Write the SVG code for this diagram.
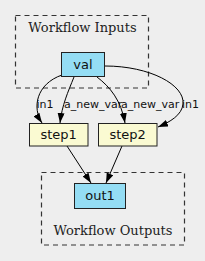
<svg xmlns="http://www.w3.org/2000/svg" width="205" height="261" viewBox="0 0 205 261">
<defs>
<style>
.cluster{fill:none;stroke:#333;stroke-width:1.2;stroke-dasharray:5,4}
.ctitle{font-family:"DejaVu Serif",serif;font-size:13px;fill:#222;text-anchor:middle}
.io{fill:#94ddf4;stroke:#222;stroke-width:1}
.step{fill:#fafad2;stroke:#222;stroke-width:1}
.nt{font-family:"DejaVu Sans",sans-serif;font-size:13px;fill:#111;text-anchor:middle}
.edge{fill:none;stroke:#000;stroke-width:1;marker-end:url(#arr)}
.el{font-family:"DejaVu Sans",sans-serif;font-size:11px;fill:#111}
</style>
<marker id="arr" markerUnits="userSpaceOnUse" markerWidth="10" markerHeight="8" refX="10" refY="3.5" orient="auto">
<path d="M0,0 L10,3.5 L0,7 z" fill="#000"/>
</marker>
</defs>
<rect width="205" height="261" fill="#eeeeee"/>
<g id="cluster_inputs">
<rect class="cluster" x="15.5" y="15.5" width="133" height="72.5"/>
<text class="ctitle" x="82.5" y="32">Workflow Inputs</text>
</g>
<g id="cluster_outputs">
<rect class="cluster" x="41.5" y="172.5" width="143" height="72.5"/>
<text class="ctitle" x="113" y="235">Workflow Outputs</text>
</g>
<g id="edges">
<path class="edge" d="M62,75 C36,84 32,108 42,123"/>
<path class="edge" d="M74,77 C68,92 62,105 60,123"/>
<path class="edge" d="M97,77 C110,87 121,100 125,123"/>
<path class="edge" d="M105,66 C150,66 185,85 183,104 C182,115 170,122 158,127"/>
<path class="edge" d="M67,146 L91,183"/>
<path class="edge" d="M122,146 L106,183"/>
<text class="el" x="36.5" y="108">in1</text>
<text class="el" x="64" y="108">a_new_var</text>
<text class="el" x="121" y="108">a_new_var</text>
<text class="el" x="182" y="108">in1</text>
</g>
<g id="val">
<rect class="io" x="61.5" y="52.5" width="43" height="24"/>
<text class="nt" x="83" y="68.5">val</text>
</g>
<g id="step1">
<rect class="step" x="29.5" y="123.5" width="58.5" height="22.5"/>
<text class="nt" x="58.7" y="139">step1</text>
</g>
<g id="step2">
<rect class="step" x="98.5" y="123.5" width="58.5" height="22.5"/>
<text class="nt" x="127.7" y="139">step2</text>
</g>
<g id="out1">
<rect class="io" x="74.5" y="183.5" width="51" height="25"/>
<text class="nt" x="100" y="200">out1</text>
</g>
</svg>
